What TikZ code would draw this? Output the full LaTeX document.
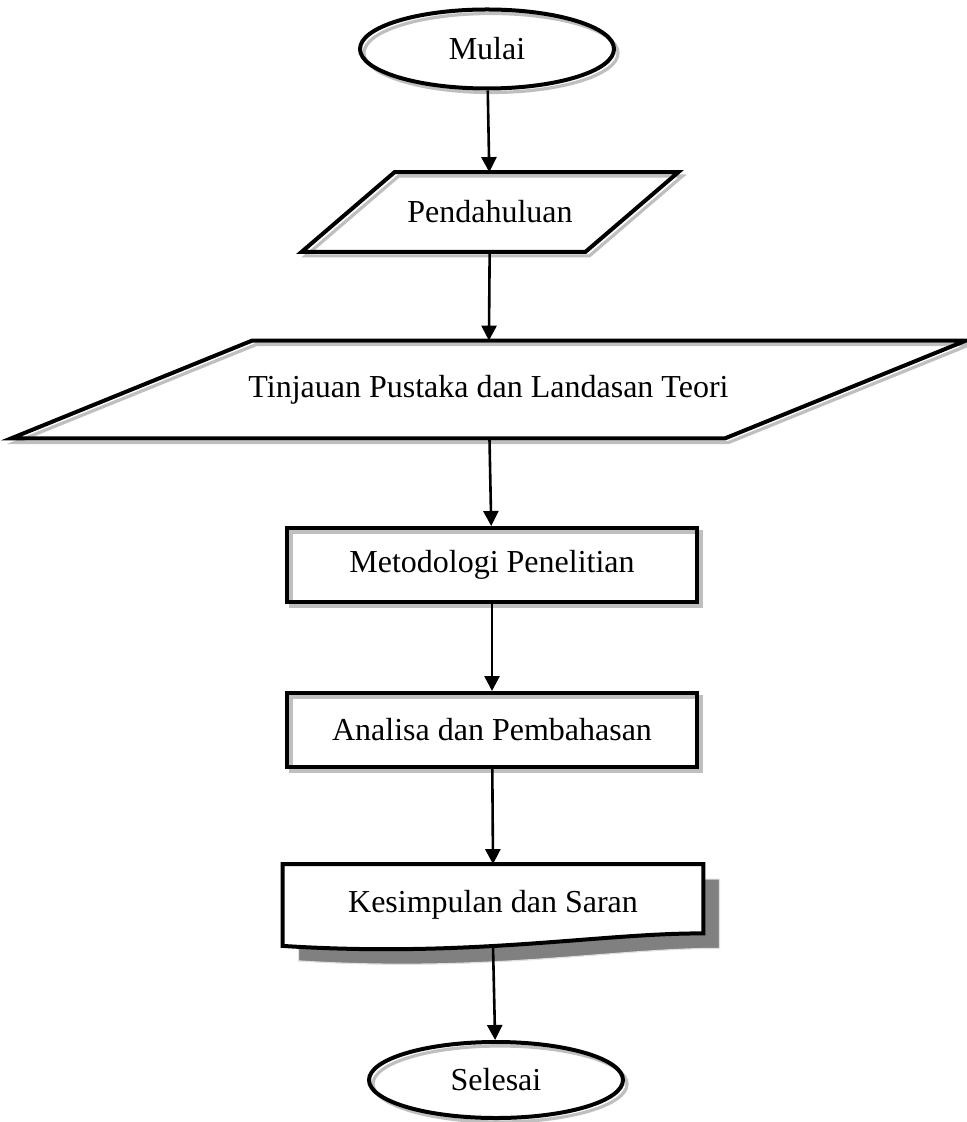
\documentclass[tikz,border=0pt]{standalone}
\usepackage{fontspec}
\setmainfont{Liberation Serif}
\usepackage{tikz}
\usetikzlibrary{arrows.meta,positioning,shapes.geometric}

% parallelogram round a (rectangular) node; #2 = half of the slant
\newcommand{\slantshape}[2]{%
  \draw[shapeline] ([xshift=-#2]#1.south west) -- ([xshift=-#2]#1.south east)
    -- ([xshift=#2]#1.north east) -- ([xshift=#2]#1.north west) -- cycle;}

\begin{document}
\begin{tikzpicture}[x=0.5pt,y=-0.5pt,
  font=\fontsize{16pt}{19pt}\selectfont,
  shapeline/.style={draw=black,line width=2pt,
    preaction={draw=black!25,line width=1.6pt,transform canvas={shift={(2pt,-2pt)}}}},
  termbox/.style={shapeline,ellipse,minimum width=127pt,minimum height=39.5pt,inner sep=0pt},
  iobox/.style={rectangle,inner sep=0pt},
  procbox/.style={shapeline,rectangle,minimum width=205pt,minimum height=37pt,inner sep=0pt},
  docline/.style={draw=black,line width=2pt,fill=white,
    preaction={fill=black!50,draw=black!12,line width=0.6pt,transform canvas={shift={(8pt,-7.5pt)}}}},
  flowline/.style={line width=1.3pt,-{Triangle[width=7.5pt,length=7.5pt]}}]
\useasboundingbox (0,0) rectangle (966,1122);

% start / input shapes
\node[termbox] (mulai) at (487,49) {Mulai};
\node[iobox,minimum width=141.5pt,minimum height=39.5pt] (pend) at (490,212) {Pendahuluan};
\slantshape{pend}{23.25pt}
\node[iobox,minimum width=356.5pt,minimum height=48.5pt] (tinj) at (488.5,389.5) {Tinjauan Pustaka dan Landasan Teori};
\slantshape{tinj}{60.25pt}

% process boxes
\node[procbox] (metod) at (492,565) {Metodologi Penelitian};
\node[procbox] (anal) at (492,730) {Analisa dan Pembahasan};

% document shape with drop shadow
\node[minimum width=210pt,minimum height=40.5pt,inner sep=0pt] (kes) at (493,905) {};
\draw[docline] (kes.north west) -- (kes.north east) -- ([yshift=6.25pt]kes.south east)
      .. controls (600,933) and (470,958) .. (kes.south west) -- cycle;
\node at (kes) {Kesimpulan dan Saran};

\node[termbox,minimum height=38pt] (selesai) at (496,1080) {Selesai};

% connectors
\draw[flowline] (mulai) -- (pend);
\draw[flowline] (pend) -- (tinj);
\draw[flowline] (tinj) -- (metod);
\draw[flowline] (metod) -- (anal);
\draw[flowline] (anal) -- (kes.north);
\draw[flowline] (kes.south) -- (selesai);
\end{tikzpicture}
\end{document}
